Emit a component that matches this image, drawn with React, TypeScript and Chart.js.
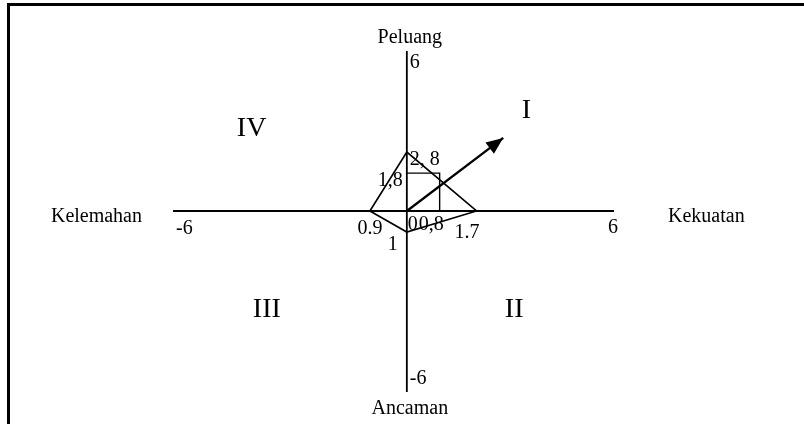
import React, { useEffect, useRef } from "react";
import { Chart, registerables } from "chart.js";

Chart.register(...registerables);

// ---- data ----
const axisNames = ["Peluang", "Ancaman", "Kelemahan", "Kekuatan"]; // top, bottom, left, right
const axisTickLabels = ["6", "-6", "-6", "6"]; // top, bottom, left, right
const quadrantLabels = ["I", "II", "III", "IV"];

const diamondX = [-0.9, 0, 1.7, 0, -0.9];
const diamondY = [0, 2.8, 0, -1, 0];
const diamondLabels = ["0.9", "2, 8", "1.7", "1"]; // left, top, right, bottom vertex

const boxX = [0, 0.8, 0.8];
const boxY = [1.8, 1.8, 0];
const boxLabels = ["1,8", "0,8"];
const originLabel = "0";

const arrowX = [0, 2.35];
const arrowY = [0, 3.47];

// ---- styles / layout ----
const FONT = '"Liberation Serif", "Times New Roman", serif';
const X_RANGE = { min: -5.7, max: 5.05 };
const Y_RANGE = { min: -8.6, max: 7.6 };

const diamondLabelStyle = [
  { align: "center", dx: 0, dy: 23 },
  { align: "left", dx: 3, dy: 13 },
  { align: "right", dx: 3, dy: 27 },
  { align: "right", dx: -9, dy: 18 },
];
const boxLabelStyle = [
  { align: "right", dx: -4, dy: 13 },
  { align: "right", dx: 4, dy: 19 },
];
const quadrantStyle = [
  { dx: 115, dy: -93 },
  { dx: 98, dy: 106 },
  { dx: -154, dy: 106 },
  { dx: -170, dy: -75 },
];

const toPoints = (xs: number[], ys: number[]) => xs.map((x, i) => ({ x, y: ys[i] }));

const diagramPlugin = {
  id: "swotDiagram",
  beforeDatasetsDraw(chart: any) {
    const { ctx, chartArea } = chart;
    const xs = chart.scales.x;
    const ys = chart.scales.y;
    const ox = xs.getPixelForValue(0);
    const oy = ys.getPixelForValue(0);
    ctx.save();
    ctx.strokeStyle = "#000";
    ctx.lineWidth = 1.8;
    ctx.beginPath();
    ctx.moveTo(chartArea.left, oy);
    ctx.lineTo(chartArea.right, oy);
    ctx.moveTo(ox, chartArea.top);
    ctx.lineTo(ox, chartArea.bottom);
    ctx.stroke();
    ctx.restore();
  },
  afterDatasetsDraw(chart: any) {
    const { ctx, chartArea, width, height } = chart;
    const xs = chart.scales.x;
    const ys = chart.scales.y;
    const ox = xs.getPixelForValue(0);
    const oy = ys.getPixelForValue(0);
    ctx.save();

    // frame
    ctx.fillStyle = "#000";
    ctx.fillRect(7, 3, width - 7, 3);
    ctx.fillRect(7, 3, 3, height - 3);

    // arrow head
    const ax0 = xs.getPixelForValue(arrowX[0]);
    const ay0 = ys.getPixelForValue(arrowY[0]);
    const ax1 = xs.getPixelForValue(arrowX[1]);
    const ay1 = ys.getPixelForValue(arrowY[1]);
    const ang = Math.atan2(ay1 - ay0, ax1 - ax0);
    const hl = 17;
    const hw = 7;
    ctx.beginPath();
    ctx.moveTo(ax1, ay1);
    ctx.lineTo(ax1 - hl * Math.cos(ang) + hw * Math.sin(ang), ay1 - hl * Math.sin(ang) - hw * Math.cos(ang));
    ctx.lineTo(ax1 - hl * Math.cos(ang) - hw * Math.sin(ang), ay1 - hl * Math.sin(ang) + hw * Math.cos(ang));
    ctx.closePath();
    ctx.fill();

    ctx.textBaseline = "alphabetic";
    const text = (s: string, x: number, y: number, size: number, align: string) => {
      ctx.font = `${size}px ${FONT}`;
      ctx.textAlign = align;
      ctx.fillText(s, x, y);
    };

    // axis names
    text(axisNames[0], ox + 3, chartArea.top - 8, 20, "center");
    text(axisNames[1], ox + 3, chartArea.bottom + 22, 20, "center");
    text(axisNames[2], chartArea.left - 31, oy + 11, 20, "right");
    text(axisNames[3], chartArea.right + 54, oy + 11, 20, "left");

    // axis end ticks
    text(axisTickLabels[0], ox + 3, chartArea.top + 17, 20, "left");
    text(axisTickLabels[1], ox + 3, chartArea.bottom - 8, 20, "left");
    text(axisTickLabels[2], chartArea.left + 3, oy + 23, 20, "left");
    text(axisTickLabels[3], chartArea.right + 4, oy + 22, 20, "right");

    // diamond vertex labels
    diamondLabels.forEach((s, i) => {
      const st = diamondLabelStyle[i];
      const px = xs.getPixelForValue(diamondX[i]);
      const py = ys.getPixelForValue(diamondY[i]);
      text(s, px + st.dx, py + st.dy, 20, st.align);
    });

    // box labels
    boxLabels.forEach((s, i) => {
      const st = boxLabelStyle[i];
      const px = xs.getPixelForValue(boxX[i === 0 ? 0 : 2]);
      const py = ys.getPixelForValue(boxY[i === 0 ? 0 : 2]);
      text(s, px + st.dx, py + st.dy, 20, st.align);
    });
    text(originLabel, ox + 1, oy + 19, 20, "left");

    // quadrant labels
    quadrantLabels.forEach((s, i) => {
      const st = quadrantStyle[i];
      text(s, ox + st.dx, oy + st.dy, 28, "left");
    });

    ctx.restore();
  },
};

export default function App() {
  const ref = useRef<HTMLCanvasElement | null>(null);

  useEffect(() => {
    if (!ref.current) return;
    const line = (data: any, w: number) => ({
      data,
      showLine: true,
      borderColor: "#000",
      backgroundColor: "#000",
      borderWidth: w,
      pointRadius: 0,
      pointHoverRadius: 0,
      fill: false,
      tension: 0,
    });
    const chart = new Chart(ref.current, {
      type: "scatter",
      data: {
        datasets: [
          line(toPoints(diamondX, diamondY), 1.6),
          line(toPoints(boxX, boxY), 1.4),
          line(toPoints(arrowX, arrowY), 2.3),
        ],
      },
      options: {
        animation: false,
        responsive: false,
        devicePixelRatio: 1,
        events: [],
        layout: { padding: { left: 173, right: 190, top: 51, bottom: 32 } },
        plugins: { legend: { display: false }, tooltip: { enabled: false } },
        scales: {
          x: { type: "linear", min: X_RANGE.min, max: X_RANGE.max, display: false },
          y: { type: "linear", min: Y_RANGE.min, max: Y_RANGE.max, display: false },
        },
      },
      plugins: [diagramPlugin],
    } as any);
    return () => chart.destroy();
  }, []);

  return (
    <div style={{ position: "absolute", left: 0, top: 0, width: 804, height: 424, background: "#fff" }}>
      <canvas ref={ref} width={804} height={424} style={{ display: "block" }} />
    </div>
  );
}
